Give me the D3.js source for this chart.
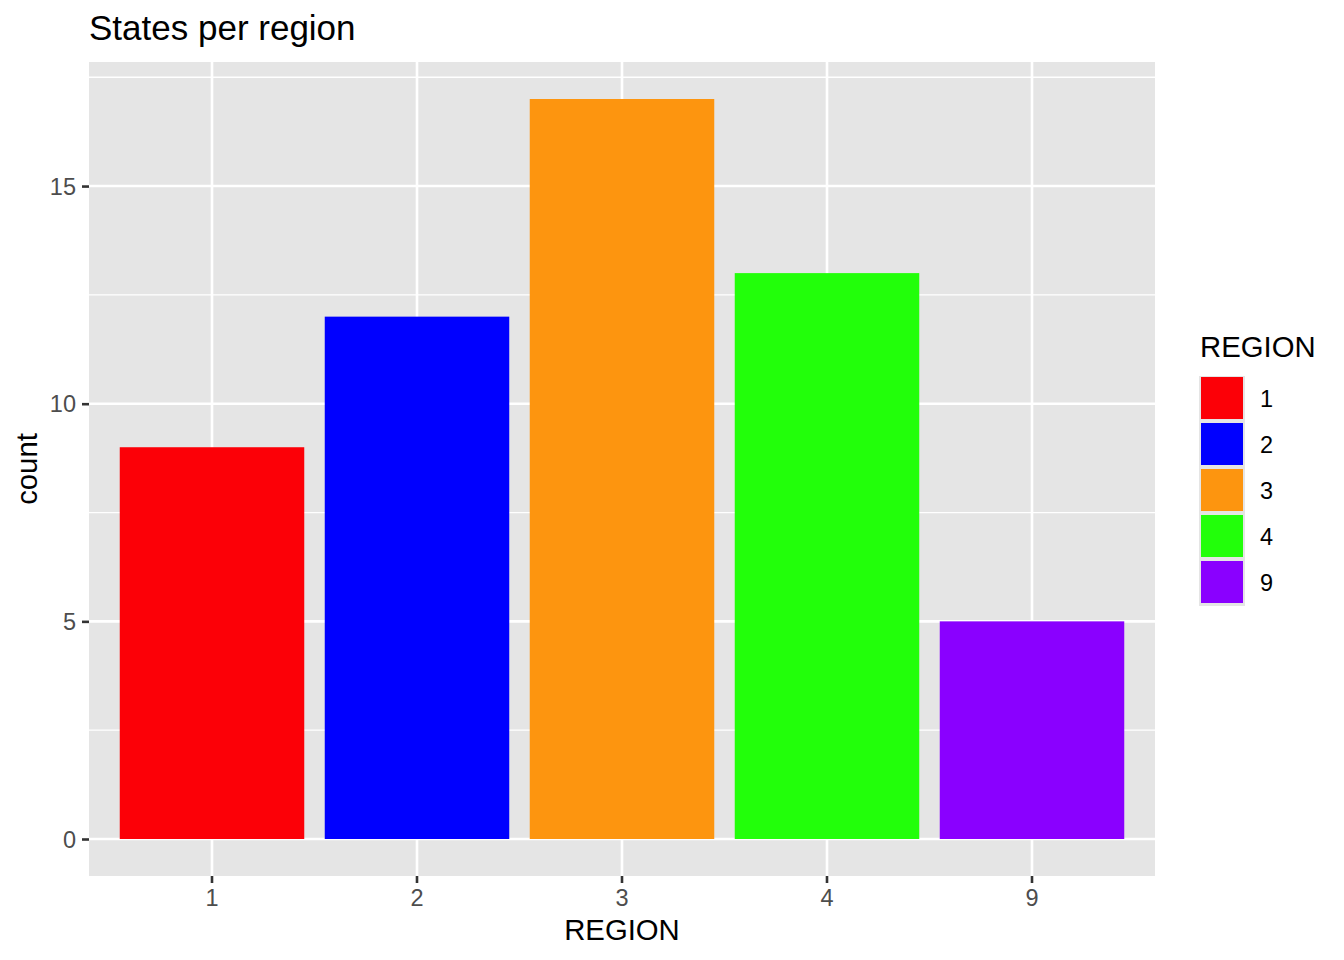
<!DOCTYPE html>
<html>
<head>
<meta charset="utf-8">
<script src="https://cdn.jsdelivr.net/npm/d3@7"></script>
<style>
  body { margin: 0; background: #fff; }
  text { font-family: "Liberation Sans", Arial, Helvetica, sans-serif; }
</style>
</head>
<body>
<div id="chart"></div>
<script>
// Chart data
const regions = ['1', '2', '3', '4', '9']
const counts = [9, 12, 17, 13, 5]
const regionColors = ['#fc0007', '#0000ff', '#fd950f', '#22ff0a', '#8a00ff']
const yTicks = [0, 5, 10, 15]
const yMinor = [2.5, 7.5, 12.5, 17.5]

const width = 1344
const height = 960

// Panel bounds
const panel = { left: 89, right: 1155, top: 62, bottom: 876 }

const svg = d3.select('#chart').append('svg')
  .attr('width', width)
  .attr('height', height)

svg.append('rect')
  .attr('width', width).attr('height', height)
  .attr('fill', '#fff')

// Scales (ggplot-ish expansion)
const x = d3.scaleBand()
  .domain(regions)
  .range([panel.left, panel.right])
  .paddingInner(0.1)
  .paddingOuter(0.15)

const yMax = 17 * 1.05
const yMin = -17 * 0.05
const y = d3.scaleLinear()
  .domain([yMin, yMax])
  .range([panel.bottom, panel.top])

const color = d3.scaleOrdinal().domain(regions).range(regionColors)

// Panel background
svg.append('rect')
  .attr('x', panel.left).attr('y', panel.top)
  .attr('width', panel.right - panel.left)
  .attr('height', panel.bottom - panel.top)
  .attr('fill', '#e5e5e5')

// Grid lines
svg.selectAll('.minor')
  .data(yMinor)
  .enter().append('line')
  .attr('x1', panel.left).attr('x2', panel.right)
  .attr('y1', d => y(d)).attr('y2', d => y(d))
  .attr('stroke', '#fff').attr('stroke-width', 1.3)

svg.selectAll('.hmajor')
  .data(yTicks)
  .enter().append('line')
  .attr('x1', panel.left).attr('x2', panel.right)
  .attr('y1', d => y(d)).attr('y2', d => y(d))
  .attr('stroke', '#fff').attr('stroke-width', 2.6)

svg.selectAll('.vmajor')
  .data(regions)
  .enter().append('line')
  .attr('y1', panel.top).attr('y2', panel.bottom)
  .attr('x1', d => x(d) + x.bandwidth() / 2)
  .attr('x2', d => x(d) + x.bandwidth() / 2)
  .attr('stroke', '#fff').attr('stroke-width', 2.6)

// Bars
svg.selectAll('.bar')
  .data(regions)
  .enter().append('rect')
  .attr('x', d => x(d))
  .attr('width', x.bandwidth())
  .attr('y', (d, i) => y(counts[i]))
  .attr('height', (d, i) => y(0) - y(counts[i]))
  .attr('fill', d => color(d))

// Axes
const yAxis = d3.axisLeft(y).tickValues(yTicks).tickSize(7).tickPadding(6)
const gy = svg.append('g')
  .attr('transform', `translate(${panel.left},0)`)
  .call(yAxis)
gy.select('.domain').remove()
gy.selectAll('line').attr('stroke', '#333').attr('stroke-width', 2.6)
gy.selectAll('text')
  .attr('fill', '#4d4d4d')
  .style('font-size', '23.5px')
  .attr('dy', '0.35em')

const xAxis = d3.axisBottom(x).tickSize(7).tickPadding(6)
const gx = svg.append('g')
  .attr('transform', `translate(0,${panel.bottom})`)
  .call(xAxis)
gx.select('.domain').remove()
gx.selectAll('line').attr('stroke', '#333').attr('stroke-width', 2.6)
gx.selectAll('text')
  .attr('fill', '#4d4d4d')
  .style('font-size', '23.5px')

// Titles
svg.append('text')
  .attr('x', panel.left).attr('y', 40)
  .style('font-size', '35px')
  .attr('fill', '#000')
  .text('States per region')

svg.append('text')
  .attr('x', (panel.left + panel.right) / 2).attr('y', 940)
  .attr('text-anchor', 'middle')
  .style('font-size', '29.3px')
  .text('REGION')

svg.append('text')
  .attr('transform', `translate(37,${(panel.top + panel.bottom) / 2}) rotate(-90)`)
  .attr('text-anchor', 'middle')
  .style('font-size', '29.3px')
  .text('count')

// Legend
const legend = svg.append('g').attr('transform', 'translate(1199,376)')
const keyH = 46
const keyW = 46

legend.append('text')
  .attr('x', 1).attr('y', -19)
  .style('font-size', '29.3px')
  .text('REGION')

legend.append('rect')
  .attr('x', 0).attr('y', 0)
  .attr('width', keyW).attr('height', keyH * regions.length)
  .attr('fill', '#e5e5e5')

const rows = legend.selectAll('.key')
  .data(regions)
  .enter().append('g')
  .attr('transform', (d, i) => `translate(0,${i * keyH})`)

rows.append('rect')
  .attr('x', 2).attr('y', 1)
  .attr('width', keyW - 4).attr('height', keyH - 4)
  .attr('fill', d => color(d))

rows.append('text')
  .attr('x', 61).attr('y', keyH / 2)
  .attr('dy', '0.35em')
  .style('font-size', '23.5px')
  .text(d => d)
</script>
</body>
</html>
